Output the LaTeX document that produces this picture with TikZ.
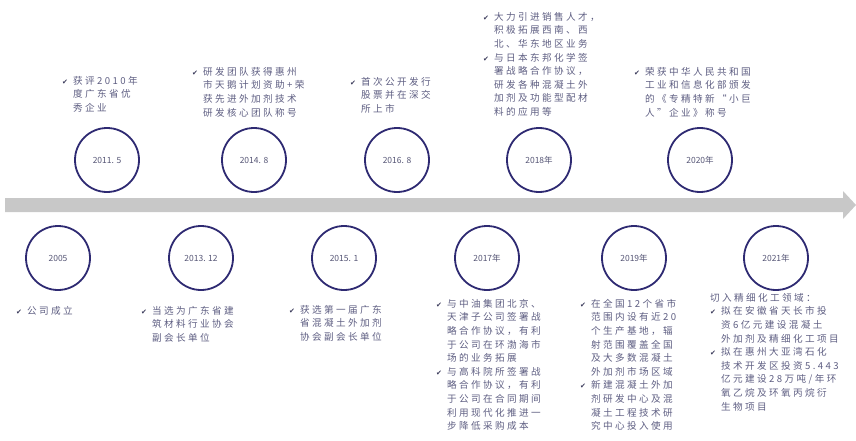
\documentclass[tikz,border=0pt]{standalone}
\usepackage{fontspec}
\setmainfont{Noto Sans CJK SC}
\newfontfamily\cjk[LetterSpace=25]{Noto Sans CJK SC}
\newfontfamily\yrfont{Noto Sans CJK SC}
\newfontfamily\dv{DejaVu Sans}
\definecolor{ring}{HTML}{2E2A72}
\definecolor{txtc}{HTML}{5E5E82}
\definecolor{band}{HTML}{C8C8C8}
\definecolor{ckc}{HTML}{3A3A5A}
\newcommand\ck{\makebox[11pt][l]{\textcolor{ckc}{\dv\fontsize{7}{7}\selectfont\char"2714}}}
\newcommand\ind{\hspace*{11pt}}
\tikzset{
  yr/.style={circle, draw=ring, line width=1.8pt, minimum size=64pt, inner sep=0pt,
    text=txtc!90!black, font=\yrfont\fontsize{8.5}{9}\selectfont},
  txt/.style={anchor=north west, align=left, inner sep=0pt, text=txtc,
    font=\cjk\fontsize{9.6}{13.6}\selectfont}
}
\begin{document}
\begin{tikzpicture}[x=1pt,y=-1pt]
\useasboundingbox (0,0) rectangle (856,441);
% timeline band
\fill[band] (5,198) -- (843,198) -- (843,191) -- (856,205) -- (843,219) -- (843,212) -- (5,212) -- cycle;
% top circles
\node[yr] (c1) at (107,160) {2011. 5};
\node[yr] (c2) at (254,160) {2014. 8};
\node[yr] (c3) at (397,160) {2016. 8};
\node[yr] (c4) at (539,160) {2018年};
\node[yr] (c5) at (700,160) {2020年};
% bottom circles
\node[yr] (d1) at (58,258) {2005};
\node[yr] (d2) at (201,258) {2013. 12};
\node[yr] (d3) at (344,258) {2015. 1};
\node[yr] (d4) at (487,258) {2017年};
\node[yr] (d5) at (634,258) {2019年};
\node[yr] (d6) at (776,258) {2021年};
% top texts
\node[txt] (t1) at (62,76) {\ck 获评2010年\\ \ind 度广东省优\\ \ind 秀企业};
\node[txt] (t2) at (192,67) {\ck 研发团队获得惠州\\ \ind 市天鹅计划资助+荣\\ \ind 获先进外加剂技术\\ \ind 研发核心团队称号};
\node[txt] (t3) at (350,77) {\ck 首次公开发行\\ \ind 股票并在深交\\ \ind 所上市};
\node[txt] (t4) at (483,12) {\ck 大力引进销售人才，\\ \ind 积极拓展西南、西\\ \ind 北、华东地区业务\\ \ck 与日本东邦化学签\\ \ind 署战略合作协议，\\ \ind 研发各种混凝土外\\ \ind 加剂及功能型配材\\ \ind 料的应用等};
\node[txt] (t5) at (634,67) {\ck 荣获中华人民共和国\\ \ind 工业和信息化部颁发\\ \ind 的《专精特新“小巨\\ \ind 人”企业》称号};
% bottom texts
\node[txt] (b1) at (16,306) {\ck 公司成立};
\node[txt] (b2) at (141,306) {\ck 当选为广东省建\\ \ind 筑材料行业协会\\ \ind 副会长单位};
\node[txt] (b3) at (289,305) {\ck 获选第一届广东\\ \ind 省混凝土外加剂\\ \ind 协会副会长单位};
\node[txt] (b4) at (436,299) {\ck 与中油集团北京、\\ \ind 天津子公司签署战\\ \ind 略合作协议，有利\\ \ind 于公司在环渤海市\\ \ind 场的业务拓展\\ \ck 与高科院所签署战\\ \ind 略合作协议，有利\\ \ind 于公司在合同期间\\ \ind 利用现代化推进一\\ \ind 步降低采购成本};
\node[txt] (b5) at (580,299) {\ck 在全国12个省市\\ \ind 范围内设有近20\\ \ind 个生产基地，辐\\ \ind 射范围覆盖全国\\ \ind 及大多数混凝土\\ \ind 外加剂市场区域\\ \ck 新建混凝土外加\\ \ind 剂研发中心及混\\ \ind 凝土工程技术研\\ \ind 究中心投入使用};
\node[txt] (b6) at (710,293) {切入精细化工领域：\\ \ck 拟在安徽省天长市投\\ \ind 资6亿元建设混凝土\\ \ind 外加剂及精细化工项目\\ \ck 拟在惠州大亚湾石化\\ \ind 技术开发区投资5.443\\ \ind 亿元建设28万吨/年环\\ \ind 氧乙烷及环氧丙烷衍\\ \ind 生物项目};
\end{tikzpicture}
\end{document}
